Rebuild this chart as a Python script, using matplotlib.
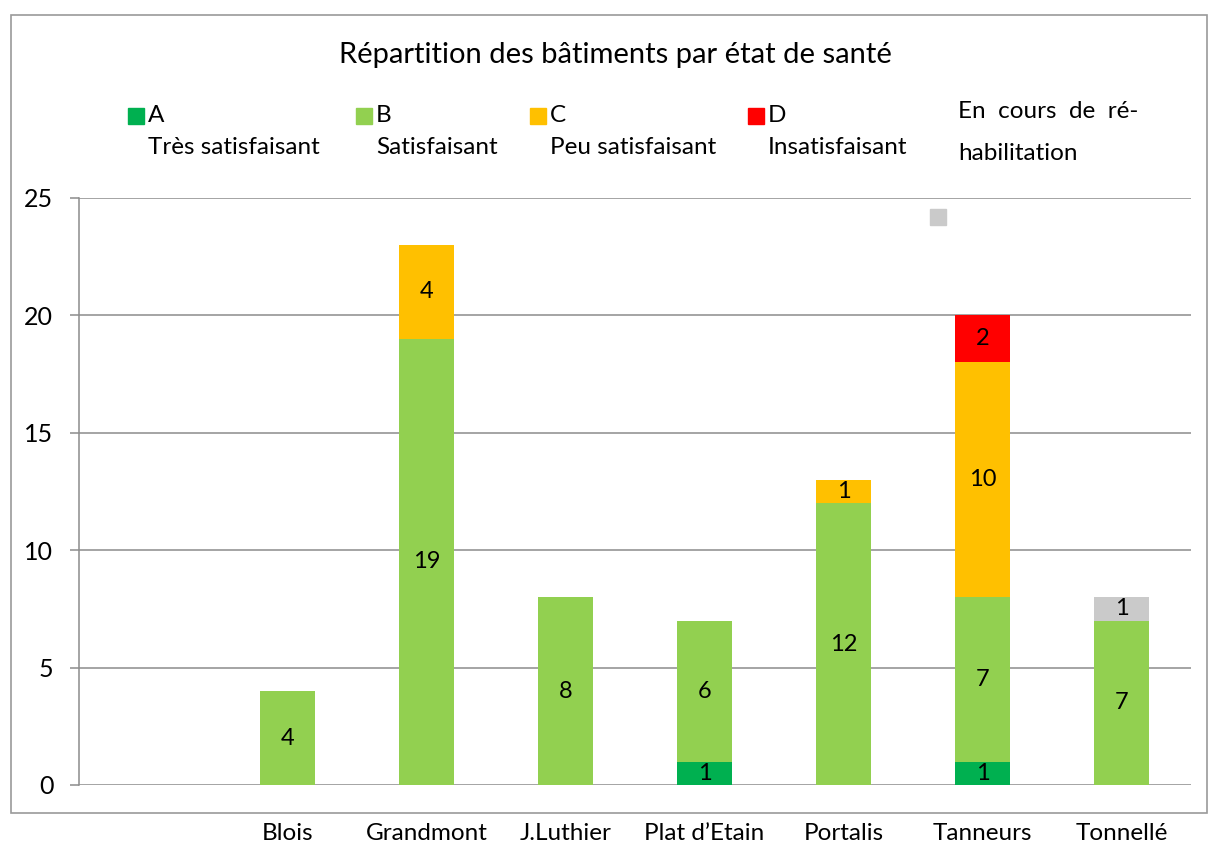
import numpy as np
import matplotlib.pyplot as plt
from matplotlib.patches import Rectangle

plt.rcParams['font.family'] = ['Lato', 'DejaVu Sans']

# sites (first slot left empty on the axis)
sites = ['', 'Blois', 'Grandmont', 'J.Luthier', "Plat d\u2019Etain", 'Portalis', 'Tanneurs', 'Tonnellé']
etat_A = [0, 0, 0, 0, 1, 0, 1, 0]
etat_B = [0, 4, 19, 8, 6, 12, 7, 7]
etat_C = [0, 0, 4, 0, 0, 1, 10, 0]
etat_D = [0, 0, 0, 0, 0, 0, 2, 0]
rehab = [0, 0, 0, 0, 0, 0, 0, 1]

series = [etat_A, etat_B, etat_C, etat_D, rehab]
colors = ['#00B050', '#92D050', '#FFC000', '#FF0000', '#CACACA']

W, H = 1209, 848
fig = plt.figure(figsize=(W / 100, H / 100), dpi=100)
ax = fig.add_axes([79 / W, 1 - 785 / H, (1191 - 79) / W, (785 - 198) / H])

x = np.arange(len(sites)) + 0.5
bottom = np.zeros(len(sites))
for vals, col in zip(series, colors):
    vals = np.array(vals, dtype=float)
    ax.bar(x, vals, width=0.4, bottom=bottom, color=col, zorder=3)
    for xi, b, v in zip(x, bottom, vals):
        if v > 0:
            ax.text(xi, b + v / 2, '%d' % v, ha='center', va='center',
                    fontsize=17, color='black', zorder=4)
    bottom += vals

ax.set_xlim(0, len(sites))
ax.set_ylim(0, 25)
ax.set_yticks(range(0, 26, 5))
ax.yaxis.grid(True, color='#8c8c8c', linewidth=1.1, zorder=0)
ax.set_axisbelow(True)
for s in ['top', 'right', 'bottom']:
    ax.spines[s].set_visible(False)
ax.spines['left'].set_color('#8c8c8c')
ax.spines['left'].set_linewidth(1.1)
ax.tick_params(axis='y', length=6.5, color='#8c8c8c', width=1.1, labelsize=18, pad=12)
ax.set_xticks(x)
ax.set_xticklabels(sites, fontsize=17.5)
ax.tick_params(axis='x', length=0, pad=27)

# outer chart frame
fig.patches.append(Rectangle((11 / W, 1 - 813 / H), (1207 - 11) / W, (813 - 15) / H,
                             transform=fig.transFigure, fill=False,
                             edgecolor='#9a9a9a', linewidth=1.2, zorder=0))

fig.text(615 / W, 1 - 55 / H, 'Répartition des bâtiments par état de santé',
         ha='center', va='center', fontsize=21)

# legend, built by hand to keep the two-line labels
legend = [(128, 'A', 'Très satisfaisant'), (356, 'B', 'Satisfaisant'),
          (530, 'C', 'Peu satisfaisant'), (748, 'D', 'Insatisfaisant')]
for (px, letter, desc), col in zip(legend, colors):
    fig.patches.append(Rectangle((px / W, 1 - 124 / H), 16 / W, 16 / H,
                                 transform=fig.transFigure, color=col))
    fig.text((px + 20) / W, 1 - 116 / H, letter, ha='left', va='center', fontsize=17.5)
    fig.text((px + 20) / W, 1 - 147 / H, desc, ha='left', va='center', fontsize=17.5)
fig.patches.append(Rectangle((930 / W, 1 - 225 / H), 16 / W, 16 / H,
                             transform=fig.transFigure, color=colors[4]))
fig.text(958 / W, 1 - 111 / H, 'En  cours  de  ré-', ha='left', va='center', fontsize=17.5)
fig.text(958 / W, 1 - 154 / H, 'habilitation', ha='left', va='center', fontsize=17.5)

fig.savefig('out.png', dpi=100)
